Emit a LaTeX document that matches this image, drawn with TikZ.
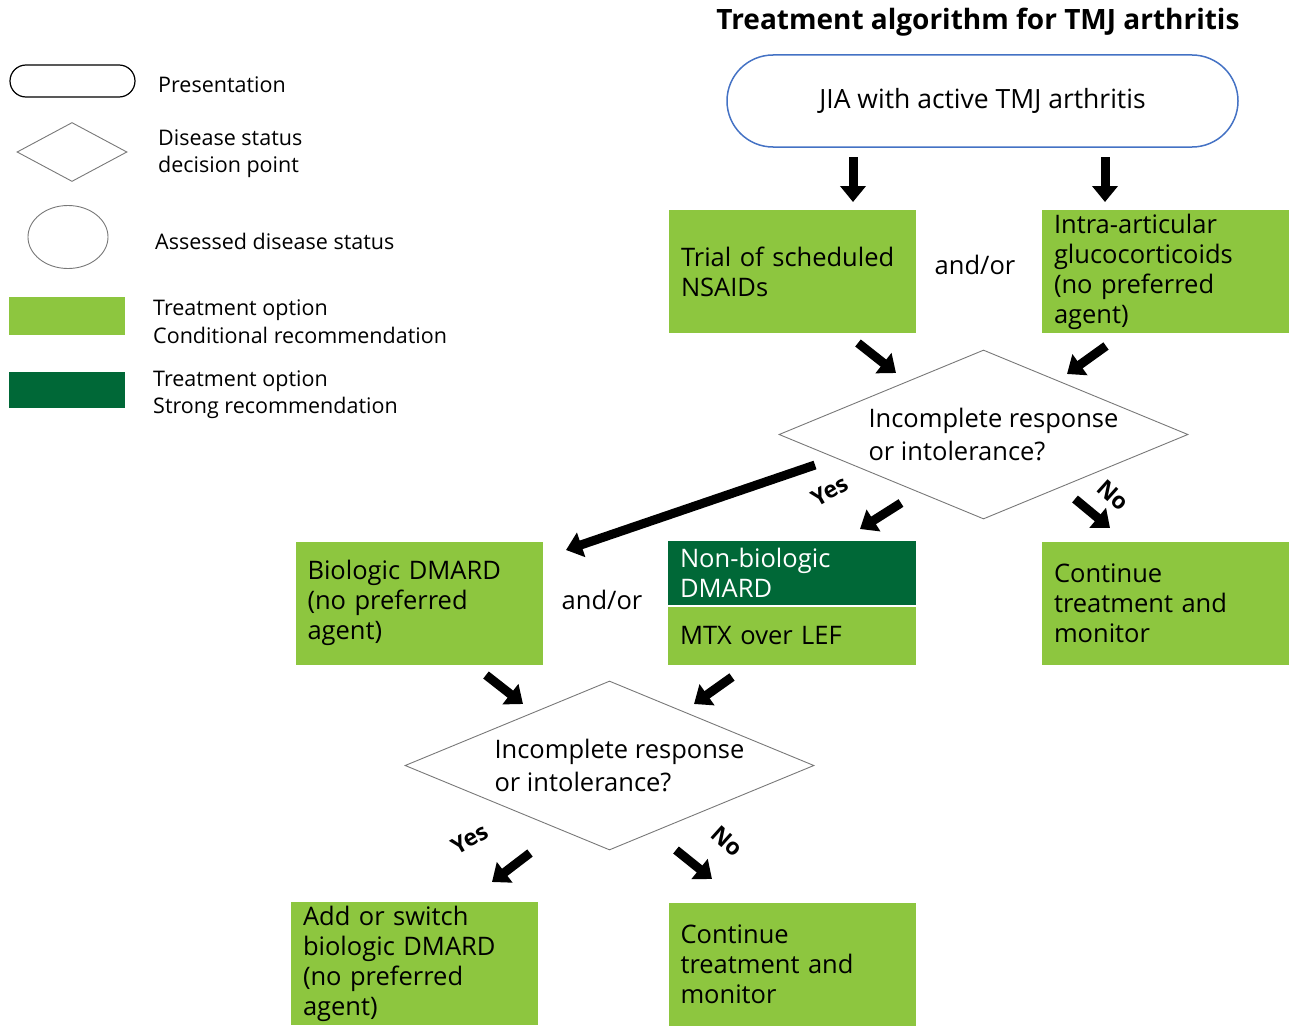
\documentclass[tikz,border=0pt]{standalone}
\usepackage{fontspec}
\setmainfont{Open Sans}
\usetikzlibrary{arrows.meta,shapes.geometric,shapes.misc}
\definecolor{lg}{RGB}{141,198,63}
\definecolor{dg}{RGB}{0,104,55}
\definecolor{ob}{RGB}{68,114,196}
\definecolor{gl}{RGB}{120,120,120}
\begin{document}
\begin{tikzpicture}[x=1pt,y=-1pt,
  every node/.style={font=\fontsize{25.5}{30}\selectfont},
  legfont/.style={font=\fontsize{21.5}{27.5}\selectfont},
  box/.style={fill=lg, draw=none, minimum width=247, minimum height=123, text width=223, inner xsep=0, inner ysep=0, align=left},
  lbl/.style={anchor=west, align=left, inner sep=0, legfont},
  dec/.style={draw=gl, line width=0.9, shape=diamond, aspect=2.4, inner sep=0, align=left, font=\fontsize{25.5}{33}\selectfont},
  bigarr/.style={line width=9, -{Triangle[width=25,length=16]}},
  yn/.style={font=\fontsize{23}{26}\selectfont\bfseries, inner sep=0}
]
\useasboundingbox (0,0) rectangle (1300,1025);
% Title
\node[font=\fontsize{28}{32}\selectfont\bfseries] (title) at (978,22) {Treatment algorithm for TMJ arthritis};
% Legend
\node[draw=black, line width=1.2, rounded rectangle, minimum width=125, minimum height=32, inner sep=0] (lpres) at (72.5,81) {};
\node[lbl] (tpres) at (158,85) {Presentation};
\node[draw=gl, line width=0.9, diamond, minimum width=110, minimum height=59, inner sep=0] (ldec) at (72,152) {};
\node[lbl] (tdec) at (158,153.5) {Disease status\\decision point};
\node[draw=gl, line width=0.9, ellipse, minimum width=80, minimum height=63, inner sep=0] (lell) at (68,237) {};
\node[lbl] (tell) at (155,241) {Assessed disease status};
\node[fill=lg, minimum width=116, minimum height=38, inner sep=0] (lcond) at (67,316) {};
\node[lbl] (tcond) at (153,321.5) {Treatment option\\Conditional recommendation};
\node[fill=dg, minimum width=116, minimum height=36, inner sep=0] (lstrong) at (67,390) {};
\node[lbl] (tstrong) at (153,394.5) {Treatment option\\Strong recommendation};
% Main flow
\node[draw=ob, line width=1.5, rounded rectangle, minimum width=511, minimum height=92, inner sep=0, font=\fontsize{26.5}{30}\selectfont] (jia) at (982.5,101) {JIA with active TMJ arthritis};
\node[box] (nsaid) at (792.5,271.5) {Trial of scheduled\\NSAIDs};
\node (andor1) at (975,265) {and/or};
\node[box] (intra) at (1165.5,271.5) {Intra-articular\\glucocorticoids\\(no preferred\\agent)};
\node[dec, minimum width=409, minimum height=169] (d1) at (983.5,434.5) {\hspace*{20pt}Incomplete response\\\hspace*{20pt}or intolerance?};
\node[box] (bio) at (419,603) {Biologic DMARD\\(no preferred\\agent)};
\node (andor2) at (602,600) {and/or};
\node[fill=dg, text=white, minimum width=248, minimum height=64, text width=224, inner xsep=0, inner ysep=0, align=left] (nonbio) at (792,573) {Non-biologic\\DMARD};
\node[fill=lg, minimum width=248, minimum height=58, text width=224, inner xsep=0, inner ysep=0, align=left] (mtx) at (792,636) {MTX over LEF};
\node[box] (cont1) at (1165.5,603) {Continue\\treatment and\\monitor};
\node[dec, minimum width=409, minimum height=169] (d2) at (609.5,765.5) {\hspace*{20pt}Incomplete response\\\hspace*{20pt}or intolerance?};
\node[box] (add) at (414.5,963.5) {Add or switch\\biologic DMARD\\(no preferred\\agent)};
\node[box] (cont2) at (792,964) {Continue\\treatment and\\monitor};
% arrow coordinates
\coordinate (a1s) at (853,157); \coordinate (a1e) at (853,202);
\coordinate (a2s) at (1105,157); \coordinate (a2e) at (1105,202);
\coordinate (a3s) at (858,343); \coordinate (a3e) at (896,373);
\coordinate (a4s) at (1106,346); \coordinate (a4e) at (1067,374);
\coordinate (a5s) at (815,465); \coordinate (a5e) at (566,550);
\coordinate (a6s) at (901,503); \coordinate (a6e) at (860,529);
\coordinate (a7s) at (1075,499); \coordinate (a7e) at (1110,528);
\coordinate (a8s) at (486,675); \coordinate (a8e) at (523,704);
\coordinate (a9s) at (732,677); \coordinate (a9e) at (694,704);
\coordinate (a10s) at (530,853); \coordinate (a10e) at (492,882);
\coordinate (a11s) at (676,850); \coordinate (a11e) at (712,879);
% connectors
\draw[bigarr] (a1s) -- (a1e);
\draw[bigarr] (a2s) -- (a2e);
\draw[bigarr] (a3s) -- (a3e);
\draw[bigarr] (a4s) -- (a4e);
\draw[bigarr] (a5s) -- (a5e);
\draw[bigarr] (a6s) -- (a6e);
\draw[bigarr] (a7s) -- (a7e);
\draw[bigarr] (a8s) -- (a8e);
\draw[bigarr] (a9s) -- (a9e);
\draw[bigarr] (a10s) -- (a10e);
\draw[bigarr] (a11s) -- (a11e);
% Yes / No labels
\node[yn, rotate=30] (yes1) at (830,491) {Yes};
\node[yn, rotate=-42] (no1) at (1113,495) {No};
\node[yn, rotate=30] (yes2) at (470,839) {Yes};
\node[yn, rotate=-42] (no2) at (727,841) {No};
\end{tikzpicture}
\end{document}
